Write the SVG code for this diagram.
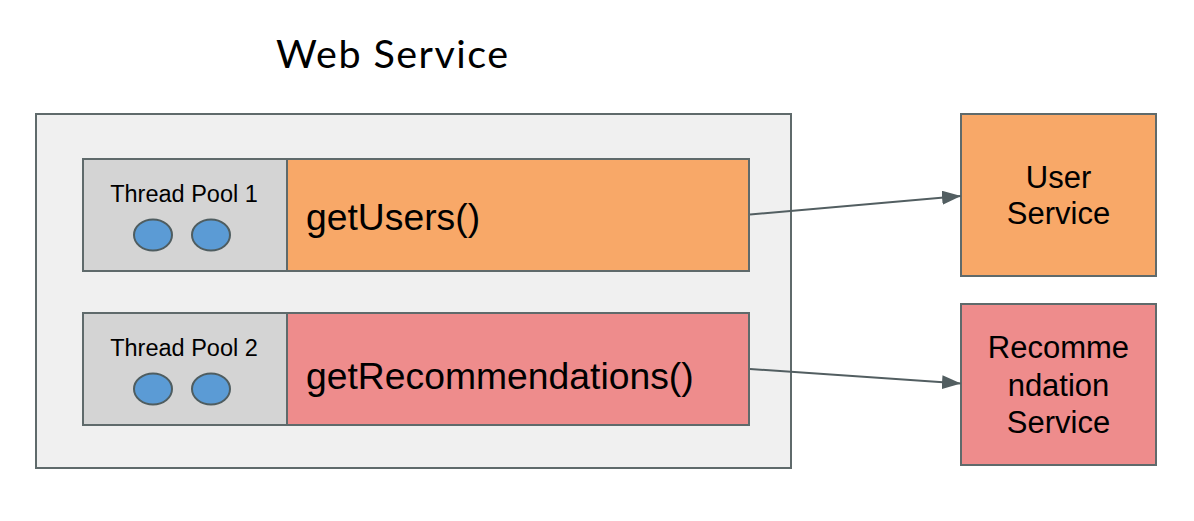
<svg xmlns="http://www.w3.org/2000/svg" width="1194" height="521" viewBox="0 0 1194 521">
<defs>
<style>
.box{stroke:#5f6a6b;stroke-width:2}
.t{font-family:"Liberation Sans",Arial,sans-serif;fill:#000}
.thread{fill:#5b9bd5;stroke:#4f5d60;stroke-width:2}
.conn{stroke:#525e61;stroke-width:2;fill:none}
</style>
<marker id="arrow" viewBox="0 0 19 14" refX="19" refY="7" markerWidth="19" markerHeight="14" markerUnits="userSpaceOnUse" orient="auto">
<path d="M0,0 L19,7 L0,14 Z" fill="#525e61"/>
</marker>
</defs>
<rect width="1194" height="521" fill="#ffffff"/>
<g id="web-service">
<text x="276" y="68" font-family="Lato,sans-serif" font-size="39.5" fill="#000" textLength="232" lengthAdjust="spacing">Web Service</text>
<rect class="box" x="36" y="114" width="755" height="354" fill="#f0f0f0"/>
</g>
<g id="thread-pool-1">
<rect class="box" x="83" y="159" width="204" height="112" fill="#d4d4d4"/>
<text class="t" x="184" y="201.5" text-anchor="middle" font-size="23.5">Thread Pool 1</text>
<ellipse class="thread" cx="153" cy="235" rx="19" ry="15.5"/>
<ellipse class="thread" cx="211" cy="235" rx="19" ry="15.5"/>
</g>
<g id="get-users">
<rect class="box" x="287" y="159" width="462" height="112" fill="#f8a868"/>
<text class="t" x="306" y="230" font-size="37.3">getUsers()</text>
</g>
<g id="thread-pool-2">
<rect class="box" x="83" y="313" width="204" height="112" fill="#d4d4d4"/>
<text class="t" x="184" y="356" text-anchor="middle" font-size="23.5">Thread Pool 2</text>
<ellipse class="thread" cx="153" cy="389" rx="19" ry="15.5"/>
<ellipse class="thread" cx="211" cy="389" rx="19" ry="15.5"/>
</g>
<g id="get-recommendations">
<rect class="box" x="287" y="313" width="462" height="112" fill="#ee8c8c"/>
<text class="t" x="306" y="389" font-size="37.3">getRecommendations()</text>
</g>
<g id="user-service">
<rect class="box" x="961" y="114" width="195" height="162" fill="#f8a868"/>
<text class="t" x="1058.5" y="188" text-anchor="middle" font-size="31">User</text>
<text class="t" x="1058.5" y="224" text-anchor="middle" font-size="31">Service</text>
</g>
<g id="recommendation-service">
<rect class="box" x="961" y="304" width="195" height="161" fill="#ee8c8c"/>
<text class="t" x="1058.5" y="358" text-anchor="middle" font-size="31">Recomme</text>
<text class="t" x="1058.5" y="396" text-anchor="middle" font-size="31">ndation</text>
<text class="t" x="1058.5" y="433" text-anchor="middle" font-size="31">Service</text>
</g>
<g id="connectors">
<line class="conn" x1="750" y1="214.5" x2="961" y2="196" marker-end="url(#arrow)"/>
<line class="conn" x1="750" y1="369" x2="961" y2="383.5" marker-end="url(#arrow)"/>
</g>
</svg>
